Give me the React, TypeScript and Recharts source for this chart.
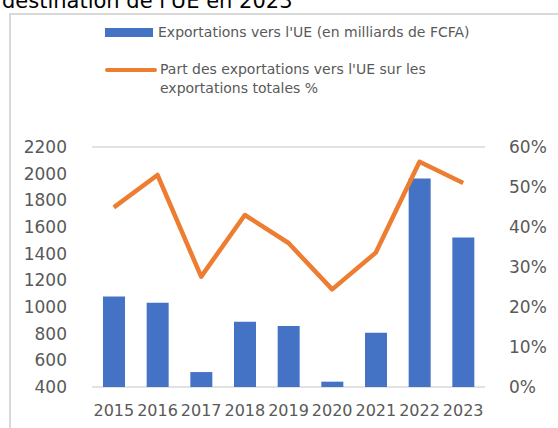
import React from "react";
import { ComposedChart, Bar, Line, XAxis, YAxis, CartesianGrid } from "recharts";

const years = ["2015", "2016", "2017", "2018", "2019", "2020", "2021", "2022", "2023"];
const exportsUE = [1078, 1032, 512, 889, 857, 440, 807, 1963, 1521];
const shareUE = [44.9, 53, 27.6, 43, 36, 24.4, 33.6, 56.3, 51];
const leftTicks = [400, 600, 800, 1000, 1200, 1400, 1600, 1800, 2000, 2200];
const rightTicks = [0, 10, 20, 30, 40, 50, 60];

const BLUE = "#4472C4";
const ORANGE = "#ED7D31";
const TEXT = "#595959";
const FONT = "'DejaVu Sans', sans-serif";

const data = years.map((y, i) => ({ year: y, exports: exportsUE[i], share: shareUE[i] }));

function LegendBox() {
  return (
    <div style={{ fontFamily: FONT, fontSize: 14, color: TEXT, lineHeight: "19px" }}>
      <div style={{ display: "flex", alignItems: "center", marginBottom: 18 }}>
        <span style={{ display: "inline-block", width: 48, height: 9, background: BLUE, marginRight: 5 }} />
        <span>Exportations vers l'UE (en milliards de FCFA)</span>
      </div>
      <div style={{ display: "flex", alignItems: "flex-start" }}>
        <span style={{ display: "inline-block", width: 52, height: 4, borderRadius: 2, background: ORANGE, marginRight: 3, marginTop: 8 }} />
        <span style={{ width: 320 }}>
          Part des exportations vers l'UE sur les
          <br />
          exportations totales %
        </span>
      </div>
    </div>
  );
}

export default function App() {
  return (
    <div style={{ position: "fixed", left: 0, top: 0, width: 558, height: 428, overflow: "hidden", background: "#fff" }}>
      <div style={{ position: "absolute", left: 9, top: 13, width: 560, height: 430, border: "2px solid #d9d9d9", boxSizing: "border-box" }} />
      <div style={{ position: "absolute", left: 0, top: 0 }}>
        <ComposedChart width={558} height={428} data={data} margin={{ top: 147, right: 0, bottom: 0, left: 0 }} barCategoryGap={0}>
          <CartesianGrid vertical={false} stroke="#d9d9d9" strokeWidth={1.5} />
          <XAxis
            dataKey="year"
            height={41}
            axisLine={false}
            tickLine={false}
            tickMargin={12}
            tick={{ fill: TEXT, fontSize: 16, fontFamily: FONT }}
            interval={0}
          />
          <YAxis
            yAxisId="left"
            width={92}
            domain={[400, 2200]}
            ticks={leftTicks}
            interval={0}
            axisLine={false}
            tickLine={false}
            tickMargin={19}
            tick={{ fill: TEXT, fontSize: 17, fontFamily: FONT }}
          />
          <YAxis
            yAxisId="right"
            orientation="right"
            width={73}
            domain={[0, 60]}
            ticks={rightTicks}
            interval={0}
            axisLine={false}
            tickLine={false}
            tickMargin={18}
            tickFormatter={(v) => `${v}%`}
            tick={{ fill: TEXT, fontSize: 17, fontFamily: FONT, textAnchor: "start" }}
          />
          <Bar yAxisId="left" dataKey="exports" fill={BLUE} barSize={22} isAnimationActive={false} />
          <Line
            yAxisId="right"
            dataKey="share"
            stroke={ORANGE}
            strokeWidth={4.5}
            dot={false}
            activeDot={false}
            strokeLinejoin="round"
            isAnimationActive={false}
          />
        </ComposedChart>
      </div>
      <div style={{ position: "absolute", left: 105, top: 23 }}>
        <LegendBox />
      </div>
      <div style={{ position: "absolute", left: 0, top: 0, width: 558, height: 10, overflow: "hidden", zIndex: 5 }}>
        <div
          style={{
            position: "absolute",
            left: 2,
            top: -11,
            fontFamily: FONT,
            fontSize: 21,
            lineHeight: "24px",
            color: "#000",
            whiteSpace: "nowrap",
          }}
        >
          destination de l'UE en 2023
        </div>
      </div>
    </div>
  );
}
